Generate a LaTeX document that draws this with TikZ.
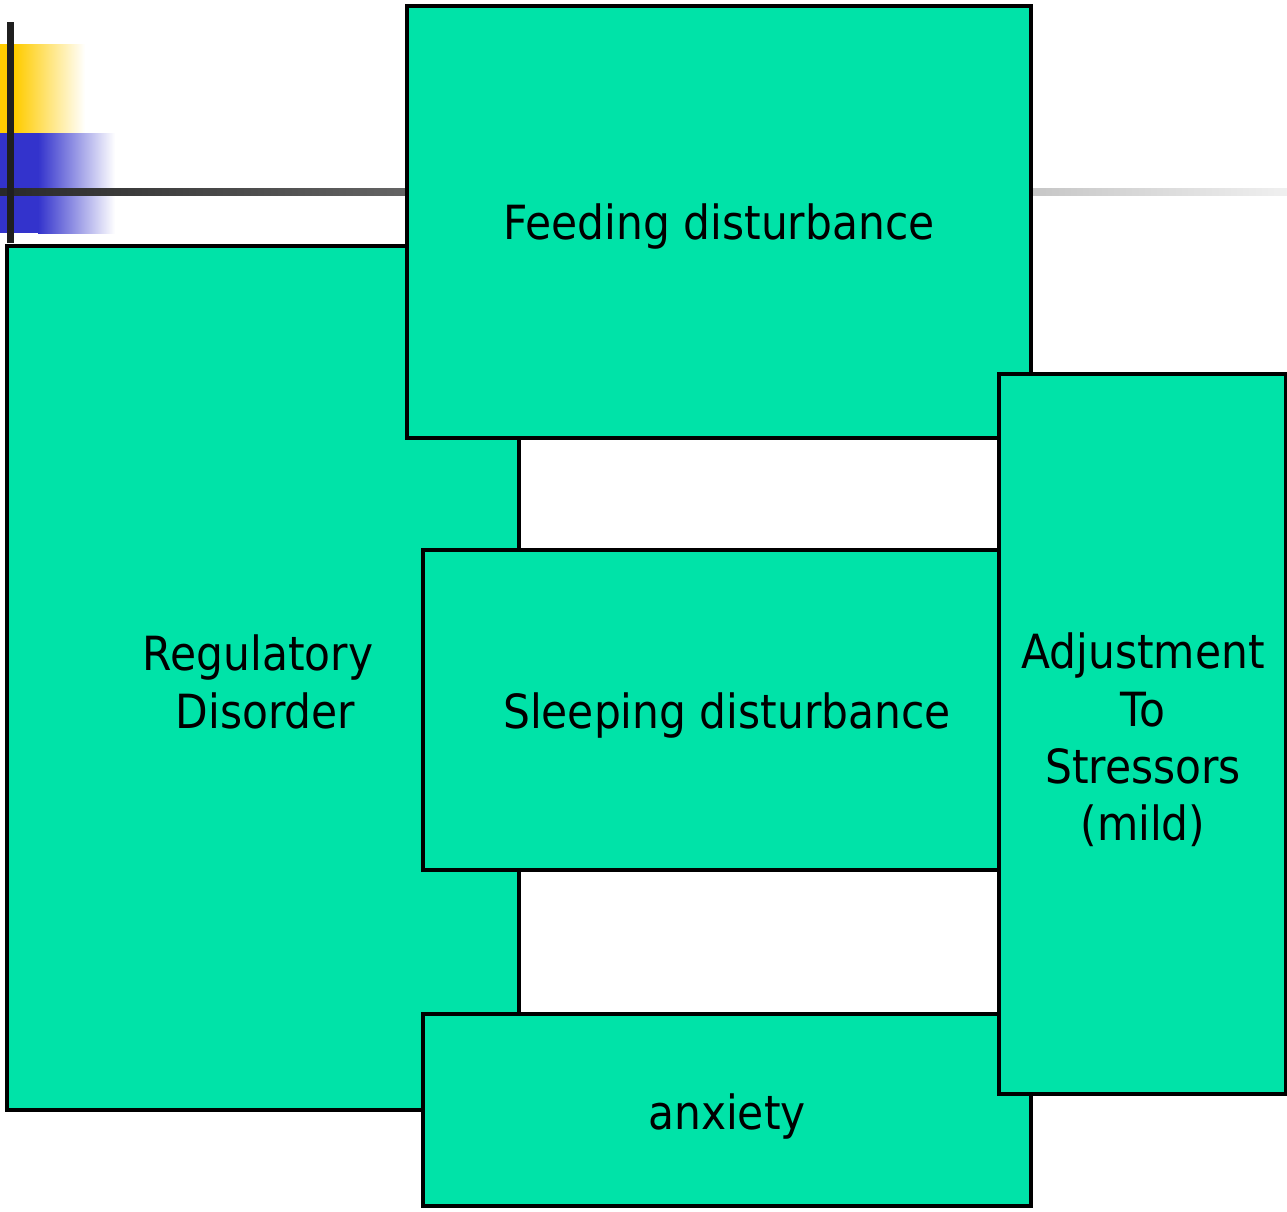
\documentclass[tikz,border=0pt]{standalone}
\usepackage{fontspec}
\setmainfont{DejaVu Sans}[FakeStretch=0.9]
\usepackage{xcolor}
\definecolor{boxgreen}{RGB}{0,227,168}
\definecolor{barYellow}{RGB}{255,204,0}
\definecolor{barBlue}{RGB}{51,51,204}

\begin{document}
\begin{tikzpicture}[
    block/.style={draw=black, line width=1pt, fill=boxgreen},
    label/.style={align=center, font=\fontsize{13.4}{16.3}\selectfont}
]
    \useasboundingbox (0,0) rectangle (12.87,12.11);

    % corner decoration
    \fill[barYellow] (0,10.78) rectangle (0.16,11.67);
    \shade[left color=barYellow, right color=white] (0.15,10.78) rectangle (0.85,11.67);
    \fill[barBlue] (0,9.78) rectangle (0.39,10.78);
    \shade[left color=barBlue, right color=white] (0.38,9.78) rectangle (1.15,10.78);
    \shade[left color=black!84, right color=black!6, middle color=black!47] (0,10.16) rectangle (12.87,10.23);
    \fill[black!88] (0.07,9.68) rectangle (0.14,11.89);

    \draw[block] (0.07,1.01) rectangle (5.19,9.65);
    \node[label] (reg) at (2.58,5.29) {Regulatory\\ \hspace*{0.15cm}Disorder};

    \draw[block] (4.07,7.73) rectangle (10.31,12.05);
    \node[label] (feed) at (7.19,9.84) {Feeding disturbance};

    \draw[block] (4.23,3.41) rectangle (9.99,6.61);
    \node[label] (sleep) at (7.27,4.95) {Sleeping disturbance};

    \draw[block] (4.23,0.05) rectangle (10.31,1.97);
    \node[label] (anx) at (7.27,0.95) {anxiety};

    \draw[block] (9.99,1.17) rectangle (12.86,8.37);
    \node[label] (adj) at (11.43,4.71) {Adjustment\\ To\\ Stressors\\ (mild)};

\end{tikzpicture}
\end{document}
